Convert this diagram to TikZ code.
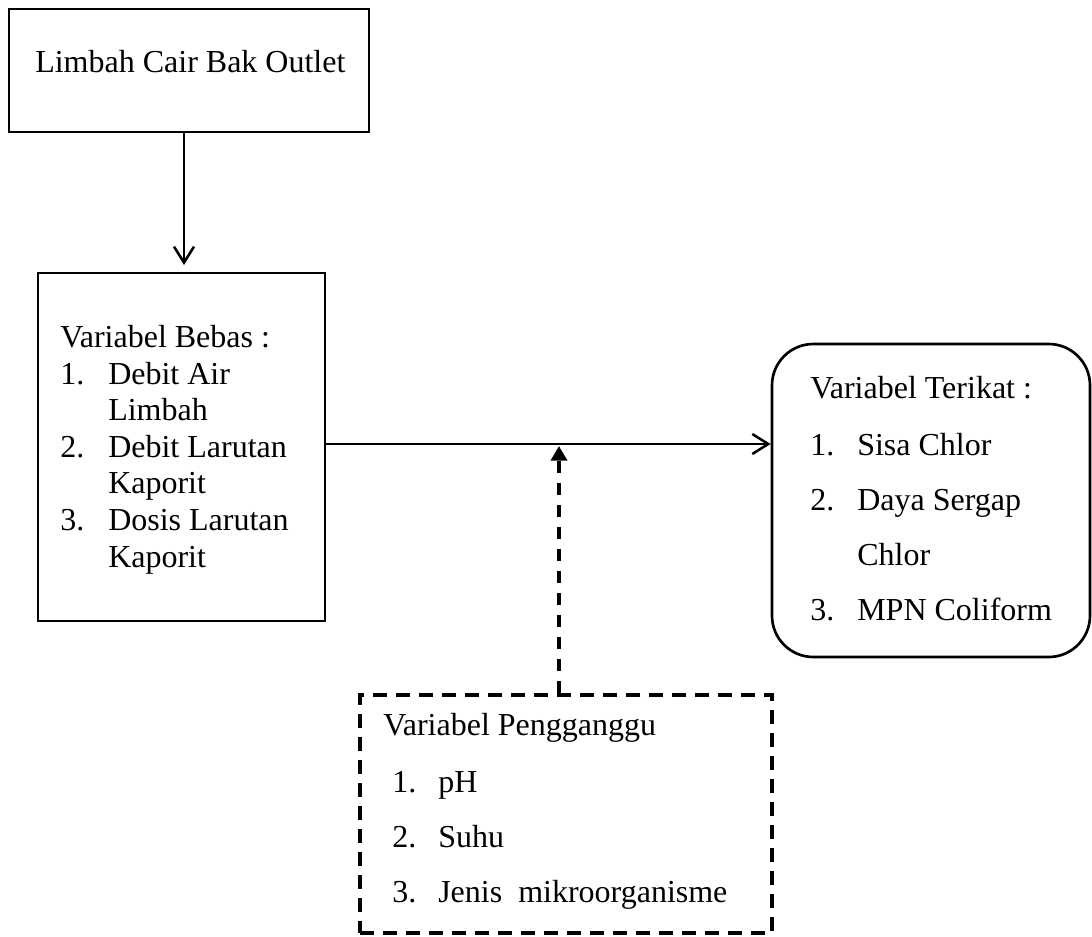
\documentclass[tikz,border=0pt]{standalone}
\usepackage{fontspec}
\setmainfont{Liberation Serif}
\usetikzlibrary{arrows.meta,fit}
\begin{document}
\begin{tikzpicture}[x=0.75pt,y=-0.75pt,
  box/.style={draw, line width=2pt, inner sep=0pt},
  rbox/.style={draw, line width=2pt, inner sep=0pt, rounded corners=31pt},
  dbox/.style={draw, line width=3pt, inner sep=0pt, dash pattern=on 10.5pt off 6.75pt},
  txt/.style={anchor=base west, inner sep=0pt, font=\fontsize{24}{28}\selectfont},
  arr/.style={line width=1.9pt, -{Straight Barb[length=12pt,width=15pt,line width=1.9pt]}},
  dasharr/.style={line width=3pt, dash pattern=on 9pt off 7.5pt, -{Triangle[length=11pt,width=12pt]}}]
\useasboundingbox (0,0) rectangle (1092,936);
% boxes
\node[box, fit={(9,9) (369,132)}] (b1) {};
\node[box, fit={(38,273) (325,621)}] (b2) {};
\node[rbox, fit={(772,344) (1090,657)}] (b3) {};
\node[dbox, fit={(360,695) (772,933)}] (b4) {};
% texts
\node[txt] (t1) at (35,72) {Limbah Cair Bak Outlet};
\node[txt] (t2) at (60,347) {Variabel Bebas :};
\node[txt] (t2n1) at (60,384) {1.};
\node[txt] (t2a) at (108,384) {Debit Air};
\node[txt] (t2b) at (108,420) {Limbah};
\node[txt] (t2n2) at (60,457) {2.};
\node[txt] (t2c) at (108,457) {Debit Larutan};
\node[txt] (t2d) at (108,493) {Kaporit};
\node[txt] (t2n3) at (60,530) {3.};
\node[txt] (t2e) at (108,530) {Dosis Larutan};
\node[txt] (t2f) at (108,567) {Kaporit};
\node[txt] (t3) at (810,398) {Variabel Terikat :};
\node[txt] (t3n1) at (810,455) {1.};
\node[txt] (t3a) at (857,455) {Sisa Chlor};
\node[txt] (t3n2) at (810,510) {2.};
\node[txt] (t3b) at (857,510) {Daya Sergap};
\node[txt] (t3c) at (857,565) {Chlor};
\node[txt] (t3n3) at (810,620) {3.};
\node[txt] (t3d) at (857,620) {MPN Coliform};
\node[txt] (t4) at (383,735) {Variabel Pengganggu};
\node[txt] (t4n1) at (392,792) {1.};
\node[txt] (t4a) at (438,792) {pH};
\node[txt] (t4n2) at (392,847) {2.};
\node[txt] (t4b) at (438,847) {Suhu};
\node[txt] (t4n3) at (392,902) {3.};
\node[txt] (t4c) at (438,902) {Jenis\ \ mikroorganisme};
% connectors
\coordinate (a1) at (184,265);
\coordinate (j) at (559,444);
\coordinate (jt) at (559,446);
\draw[arr] (b1.south -| a1) -- (a1);
\draw[arr] (b2.east |- j) -- (b3.west |- j);
\draw[dasharr] (b4.north -| j) -- (jt);
\end{tikzpicture}
\end{document}
